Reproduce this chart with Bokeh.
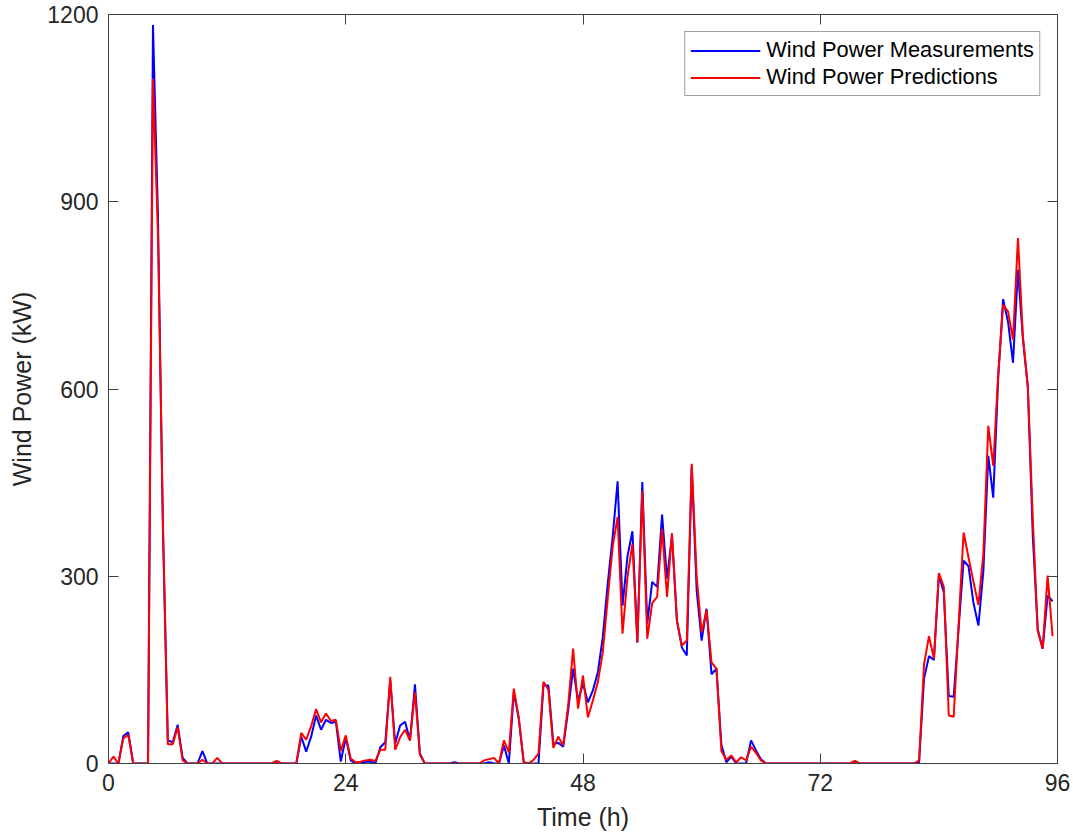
from bokeh.plotting import figure
from bokeh.models import (Range1d, FixedTicker, LinearAxis, ColumnDataSource, Legend,
                          LegendItem, CustomLabelingPolicy)
from bokeh.embed import file_html
from bokeh.resources import INLINE

# sampling grid: half-hourly, 192 samples (0 .. 95.5 h)
hours = [i * 0.5 for i in range(192)]

measurements = [
    # 0 - 11.5 h
    0, 0, 0, 44, 50, 0, 0, 0, 0, 1183, 880, 380, 37, 34, 62, 9, 0, 0, 0, 20, 0, 0, 0, 0,
    # 12 - 23.5 h
    0, 0, 0, 0, 0, 0, 0, 0, 0, 0, 3, 0, 0, 0, 0, 43, 19, 43, 77, 54, 70, 65, 67, 3,
    # 24 - 35.5 h
    41, 5, 0, 0, 3, 3, 0, 26, 34, 133, 32, 61, 67, 37, 127, 16, 0, 0, 0, 0, 0, 0, 2, 0,
    # 36 - 47.5 h
    0, 0, 0, 0, 0, 2, 0, 0, 29, 0, 114, 72, 2, 0, 0, 0, 125, 125, 32, 33, 27, 85, 152, 101,
    # 48 - 59.5 h
    128, 98, 117, 146, 202, 288, 363, 452, 253, 332, 372, 194, 451, 224, 291, 283, 399, 296, 365, 229, 186, 173, 475, 277,
    # 60 - 71.5 h
    197, 248, 143, 152, 30, 2, 11, 0, 0, 0, 37, 21, 7, 0, 0, 0, 0, 0, 0, 0, 0, 0, 0, 0,
    # 72 - 83.5 h
    0, 0, 0, 0, 0, 0, 0, 3, 0, 0, 0, 0, 0, 0, 0, 0, 0, 0, 0, 0, 2, 136, 172, 166,
    # 84 - 95.5 h
    302, 274, 108, 107, 217, 325, 316, 257, 221, 308, 493, 426, 617, 744, 707, 642, 791, 680, 603, 364, 215, 184, 269, 260,
]

predictions = [
    # 0 - 11.5 h
    0, 11, 0, 40, 46, 0, 0, 0, 0, 1097, 850, 390, 31, 31, 58, 5, 0, 0, 0, 6, 0, 0, 9, 0,
    # 12 - 23.5 h
    0, 0, 0, 0, 0, 0, 0, 0, 0, 0, 4, 0, 0, 0, 0, 49, 38, 60, 87, 66, 80, 68, 70, 20,
    # 24 - 35.5 h
    45, 8, 2, 3, 5, 6, 4, 22, 22, 139, 22, 42, 54, 37, 114, 14, 0, 0, 0, 0, 0, 0, 0, 0,
    # 36 - 47.5 h
    0, 0, 0, 0, 5, 7, 9, 0, 37, 18, 120, 74, 2, 0, 6, 16, 131, 118, 25, 43, 29, 93, 184, 88,
    # 48 - 59.5 h
    141, 74, 101, 130, 178, 264, 347, 395, 208, 299, 352, 194, 437, 200, 257, 267, 376, 267, 369, 229, 189, 197, 480, 299,
    # 60 - 71.5 h
    210, 246, 162, 152, 20, 6, 13, 2, 10, 5, 27, 17, 5, 0, 0, 0, 0, 0, 0, 0, 0, 0, 0, 0,
    # 72 - 83.5 h
    0, 0, 0, 0, 0, 0, 0, 4, 0, 0, 0, 0, 0, 0, 0, 0, 0, 0, 0, 0, 5, 159, 204, 168,
    # 84 - 95.5 h
    305, 283, 77, 75, 224, 370, 330, 291, 254, 336, 541, 477, 623, 735, 724, 679, 842, 685, 603, 392, 212, 184, 301, 204,
]

x_ticks = [0, 24, 48, 72, 96]
y_ticks = [0, 300, 600, 900, 1200]
series_names = ["Wind Power Measurements", "Wind Power Predictions"]
x_label = "Time (h)"
y_label = "Wind Power (kW)"

FONT = "Liberation Sans"
TXT = "#262626"
AX = "#404040"

src = ColumnDataSource(dict(t=hours, meas=measurements, pred=predictions))

p = figure(width=1073, height=836, output_backend="svg", toolbar_location=None,
           x_range=Range1d(0, 96), y_range=Range1d(0, 1200),
           x_axis_location=None, y_axis_location=None,
           min_border_left=108, min_border_right=16, min_border_top=14, min_border_bottom=73)
p.background_fill_color = "white"
p.border_fill_color = "white"
p.outline_line_color = None
p.xgrid.visible = False
p.ygrid.visible = False

# policy that drops every tick label (used for the mirrored top/right axes)
no_labels = CustomLabelingPolicy(code="""
try {
    for (const i of [...indices]) { indices.unset(i) }
} catch (e) {}
return indices
""")


def style(ax, labels=True):
    ax.axis_line_color = AX
    ax.axis_line_width = 1
    ax.major_tick_line_color = AX
    ax.major_tick_in = 10
    ax.major_tick_out = 0
    ax.minor_tick_line_color = None
    ax.major_label_text_font = FONT
    ax.major_label_text_color = TXT
    ax.major_label_text_font_size = "23px" if labels else "1px"
    ax.major_label_standoff = 10 if labels else 0
    ax.axis_label_text_font = FONT
    ax.axis_label_text_color = TXT
    ax.axis_label_text_font_size = "25px"
    ax.axis_label_text_font_style = "normal"
    if not labels:
        ax.major_label_policy = no_labels


xb = LinearAxis(ticker=FixedTicker(ticks=x_ticks), axis_label=x_label)
style(xb)
xb.axis_label_standoff = 9
yl = LinearAxis(ticker=FixedTicker(ticks=y_ticks), axis_label=y_label)
style(yl)
yl.axis_label_standoff = 8
xt = LinearAxis(ticker=FixedTicker(ticks=x_ticks))
style(xt, labels=False)
yr = LinearAxis(ticker=FixedTicker(ticks=y_ticks))
style(yr, labels=False)
p.add_layout(xb, "below")
p.add_layout(yl, "left")
p.add_layout(xt, "above")
p.add_layout(yr, "right")

r1 = p.line("t", "meas", source=src, line_color="#0000FF", line_width=2)
r2 = p.line("t", "pred", source=src, line_color="#FF0000", line_width=2)

legend = Legend(items=[LegendItem(label=series_names[0], renderers=[r1]),
                       LegendItem(label=series_names[1], renderers=[r2])],
                location="top_right")
legend.margin = 17
legend.padding = 5
legend.spacing = 1
legend.label_height = 25
legend.glyph_height = 25
legend.glyph_width = 70
legend.label_standoff = 6
legend.label_text_font = FONT
legend.label_text_font_size = "21.8px"
legend.label_text_color = "black"
legend.border_line_color = AX
legend.border_line_width = 1
legend.background_fill_color = "white"
legend.background_fill_alpha = 1
p.add_layout(legend, "center")

open("out.html", "w").write(file_html(p, INLINE))
